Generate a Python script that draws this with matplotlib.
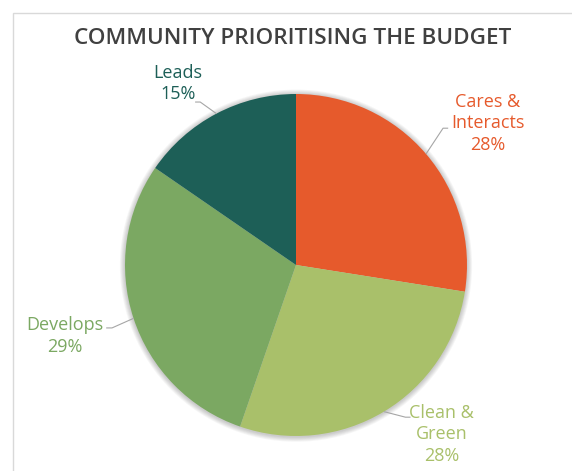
import numpy as np
import matplotlib
matplotlib.use('Agg')
import matplotlib.pyplot as plt
from matplotlib.patches import Rectangle, Circle

plt.rcParams['font.family'] = ['Open Sans', 'DejaVu Sans']

categories = ['Cares &\nInteracts', 'Clean &\nGreen', 'Develops', 'Leads']
shares = [27.5, 27.8, 29.3, 15.4]
colors = ['#E65A2C', '#A9C06A', '#7BA862', '#1D5F57']

# label layout: text centre, leader elbow, leader end (data units, radius = 1)
text_pos = [(1.12, 0.83), (0.85, -0.99), (-1.35, -0.415), (-0.69, 1.06)]
elbows = [(0.86, 0.80), (0.64, -0.89), (-1.076, -0.368), (-0.56, 0.953)]
ends = [(0.89, 0.80), (0.67, -0.89), (-1.11, -0.368), (-0.59, 0.953)]

W, H = 572, 471
cx, cy, R = 296, 265, 171

fig = plt.figure(figsize=(W / 100, H / 100), dpi=100)
ax = fig.add_axes([0, 0, 1, 1])

# chart frame
fig.patches.append(Rectangle((13 / W, -0.1), 1.2, 1 - 13 / H + 0.1,
                             transform=fig.transFigure, fill=False,
                             edgecolor='#D9D9D9', linewidth=1))

# soft shadow round the pie
for k in range(6):
    ax.add_patch(Circle((0, -0.004), 1.0 + 0.005 * (k + 1), color='#000000',
                        alpha=0.035, linewidth=0, zorder=0))

wedges, _ = ax.pie(shares, colors=colors, startangle=90, counterclock=False,
                   radius=1.0, center=(0, 0), wedgeprops={'zorder': 1})
ax.set_xlim(-cx / R, (W - cx) / R)
ax.set_ylim(-(H - cy) / R, cy / R)
ax.set_aspect('equal', adjustable='datalim')
ax.axis('off')

total = sum(shares)
angle = 90.0
for i, w in enumerate(wedges):
    span = shares[i] / total * 360
    mid = np.deg2rad(angle - span / 2)
    angle -= span
    p0 = (np.cos(mid) * 1.0, np.sin(mid) * 1.0)
    ax.plot([p0[0], elbows[i][0], ends[i][0]], [p0[1], elbows[i][1], ends[i][1]],
            color='#A6A6A6', linewidth=0.8, solid_capstyle='butt', zorder=2)
    pct = shares[i] / total * 100
    ax.text(text_pos[i][0], text_pos[i][1], f'{categories[i]}\n{pct:.0f}%',
            ha='center', va='center', color=colors[i], fontsize=13,
            linespacing=1.25)

fig.text(293 / W, 1 - 38 / H, 'COMMUNITY PRIORITISING THE BUDGET',
         ha='center', va='center', fontsize=16.2, color='#404040',
         fontweight='semibold')

fig.savefig('out.png', dpi=100)
